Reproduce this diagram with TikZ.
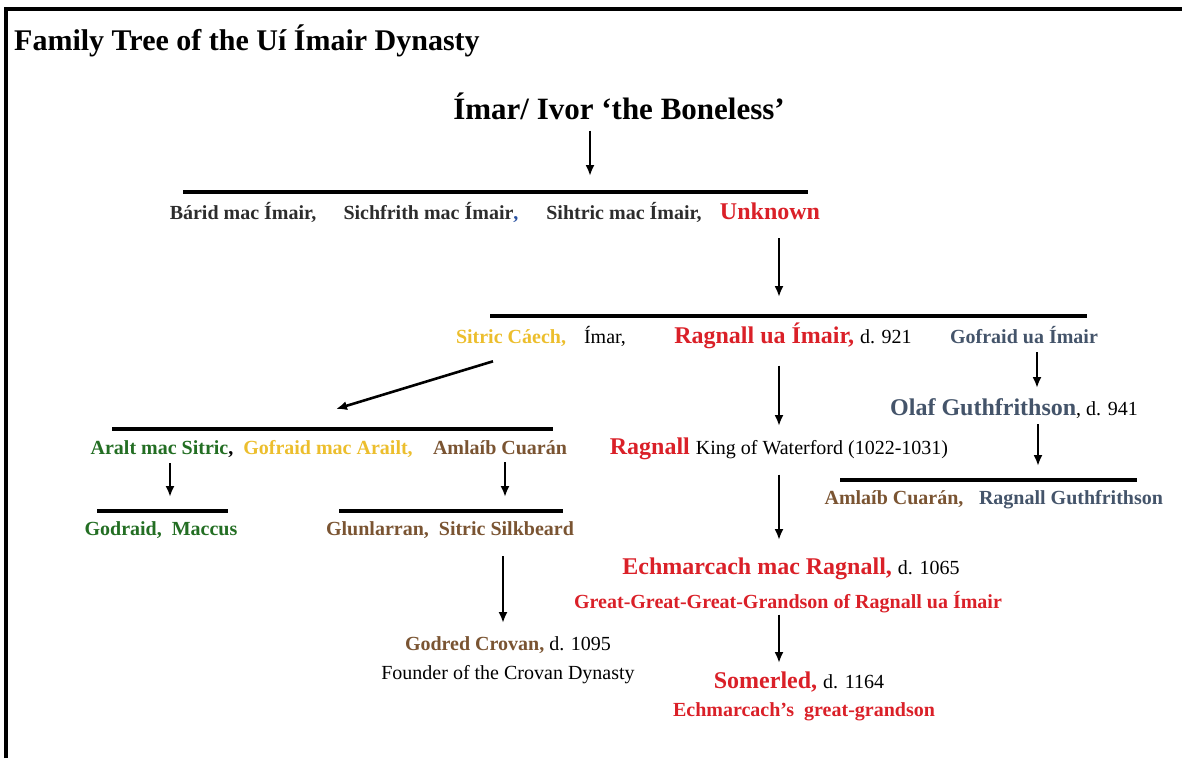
\documentclass[tikz,border=0pt]{standalone}
\usepackage{fontspec}
\setmainfont{Liberation Serif}
\usetikzlibrary{arrows.meta}

\begin{document}
\begin{tikzpicture}[x=1pt, y=-1pt,
    bar/.style={line width=3.4pt},
    arr/.style={line width=2.6pt, -{Latex[length=11pt,width=9pt]}},
    lbl/.style={anchor=base, inner sep=1pt}]
    \def\titlef{\fontsize{30}{34}\selectfont\bfseries}
    \def\rootf{\fontsize{31}{36}\selectfont\bfseries}
    \def\namef{\fontsize{20}{24}\selectfont\bfseries}
    \def\bigf{\fontsize{24}{28}\selectfont\bfseries}
    \def\regf{\fontsize{20}{24}\selectfont}
    \definecolor{tree-red}{RGB}{218,32,40}
    \definecolor{tree-gold}{RGB}{236,190,45}
    \definecolor{tree-slate}{RGB}{68,84,106}
    \definecolor{tree-brown}{RGB}{122,84,50}
    \definecolor{tree-green}{RGB}{35,110,35}
    \definecolor{tree-dark}{RGB}{45,45,45}
    \definecolor{tree-blue}{RGB}{40,80,160}
    \useasboundingbox (0,0) rectangle (1182,758);
    \draw[line width=4pt] (6,758) -- (6,9) -- (1182,9);
    \node[lbl, anchor=base west] (title) at (13,50) {\titlef Family Tree of the Uí Ímair Dynasty};
    % generation 0 and 1
    \node[lbl] (root) at (619,119) {\rootf Ímar/ Ivor ‘the Boneless’};
    \coordinate (bar1w) at (183,192);
    \coordinate (bar1e) at (808,192);
    \draw[bar] (bar1w) -- (bar1e);
    \node[lbl] (barid) at (243,219) {\namef\color{tree-dark}Bárid mac Ímair,};
    \node[lbl] (sichfrith) at (431,219) {\namef\color{tree-dark}Sichfrith mac Ímair{\color{tree-blue},}};
    \node[lbl] (sihtric) at (624,219) {\namef\color{tree-dark}Sihtric mac Ímair,};
    \node[lbl] (unknown) at (770,219) {\bigf\color{tree-red}Unknown};
    % generation 2
    \coordinate (bar2w) at (490,316);
    \coordinate (bar2e) at (1087,316);
    \draw[bar] (bar2w) -- (bar2e);
    \node[lbl] (sitric) at (511,343) {\namef\color{tree-gold}Sitric Cáech,};
    \node[lbl] (imar) at (605,343) {\regf Ímar,};
    \node[lbl] (ragnall) at (793,343) {{\bigf\color{tree-red}Ragnall ua Ímair, }\regf d. 921};
    \node[lbl] (gofraid) at (1024,343) {\namef\color{tree-slate}Gofraid ua Ímair};
    \node[lbl] (olaf) at (1014,415) {{\bigf\color{tree-slate}Olaf Guthfrithson}\regf, d. 941};
    % Sitric's line
    \coordinate (bar3w) at (112,429);
    \coordinate (bar3e) at (553,429);
    \draw[bar] (bar3w) -- (bar3e);
    \node[lbl] (aralt) at (162,454) {\namef\color{tree-green}Aralt mac Sitric{\color{black},}};
    \node[lbl] (gofraidm) at (328,454) {\namef\color{tree-gold}Gofraid mac Arailt,};
    \node[lbl] (amlaib) at (500,454) {\namef\color{tree-brown}Amlaíb Cuarán};
    \coordinate (bar4w) at (97,511);
    \coordinate (bar4e) at (228,511);
    \draw[bar] (bar4w) -- (bar4e);
    \coordinate (bar5w) at (339,511);
    \coordinate (bar5e) at (563,511);
    \draw[bar] (bar5w) -- (bar5e);
    \node[lbl] (godraid) at (161,535) {\namef\color{tree-green}Godraid,\ \ Maccus};
    \node[lbl] (glun) at (450,535) {\namef\color{tree-brown}Glunlarran,\ \ Sitric Silkbeard};
    \node[lbl] (godred) at (508,650) {{\namef\color{tree-brown}Godred Crovan, }\regf d. 1095};
    \node[lbl] (founder) at (508,679) {\regf Founder of the Crovan Dynasty};
    % Ragnall's line
    \node[lbl] (waterford) at (779,454) {{\bigf\color{tree-red}Ragnall }\regf King of Waterford (1022-1031)};
    \node[lbl] (echm) at (791,574) {{\bigf\color{tree-red}Echmarcach mac Ragnall, }\regf d. 1065};
    \node[lbl] (great) at (788,608) {\namef\color{tree-red}Great-Great-Great-Grandson of Ragnall ua Ímair};
    \node[lbl] (somerled) at (799,688) {{\bigf\color{tree-red}Somerled, }\regf d. 1164};
    \node[lbl] (grandson) at (804,716) {\namef\color{tree-red}Echmarcach’s\ \ great-grandson};
    % Gofraid's line
    \coordinate (bar6w) at (840,480);
    \coordinate (bar6e) at (1137,480);
    \draw[bar] (bar6w) -- (bar6e);
    \node[lbl] (amlaibc) at (894,504) {\namef\color{tree-brown}Amlaíb Cuarán,};
    \node[lbl] (ragnallg) at (1071,504) {\namef\color{tree-slate}Ragnall Guthfrithson};
    % arrows
    \coordinate (tip1) at (590,176);
    \coordinate (tip2) at (779,297);
    \coordinate (tip3) at (779,426);
    \coordinate (tip4) at (1037,388);
    \coordinate (tip5) at (1038,466);
    \coordinate (tip6) at (170,497);
    \coordinate (tip7) at (505,497);
    \coordinate (tip8) at (779,540);
    \coordinate (tip9) at (503,623);
    \coordinate (tip10) at (779,663);
    \coordinate (tipD) at (336,409);
    \coordinate (sitric-out) at ([xshift=-18pt,yshift=-14pt]sitric.south);
    \draw[arr, shorten <=10pt] (root.south -| tip1) -- (tip1);
    \draw[arr, shorten <=18pt] (unknown.south -| tip2) -- (tip2);
    \draw[arr, shorten <=16pt] (ragnall.south -| tip3) -- (tip3);
    \draw[arr, shorten <=8pt] (gofraid.south -| tip4) -- (tip4);
    \draw[arr, shorten <=5pt] (olaf.south -| tip5) -- (tip5);
    \draw[arr, shorten <=5pt] (aralt.south -| tip6) -- (tip6);
    \draw[arr, shorten <=7pt] (amlaib.south -| tip7) -- (tip7);
    \draw[arr, shorten <=14pt] (waterford.south -| tip8) -- (tip8);
    \draw[arr, shorten <=17pt] (glun.south -| tip9) -- (tip9);
    \draw[arr, shorten <=1pt] (great.south -| tip10) -- (tip10);
    \draw[arr] (sitric-out) -- (tipD);
\end{tikzpicture}
\end{document}
